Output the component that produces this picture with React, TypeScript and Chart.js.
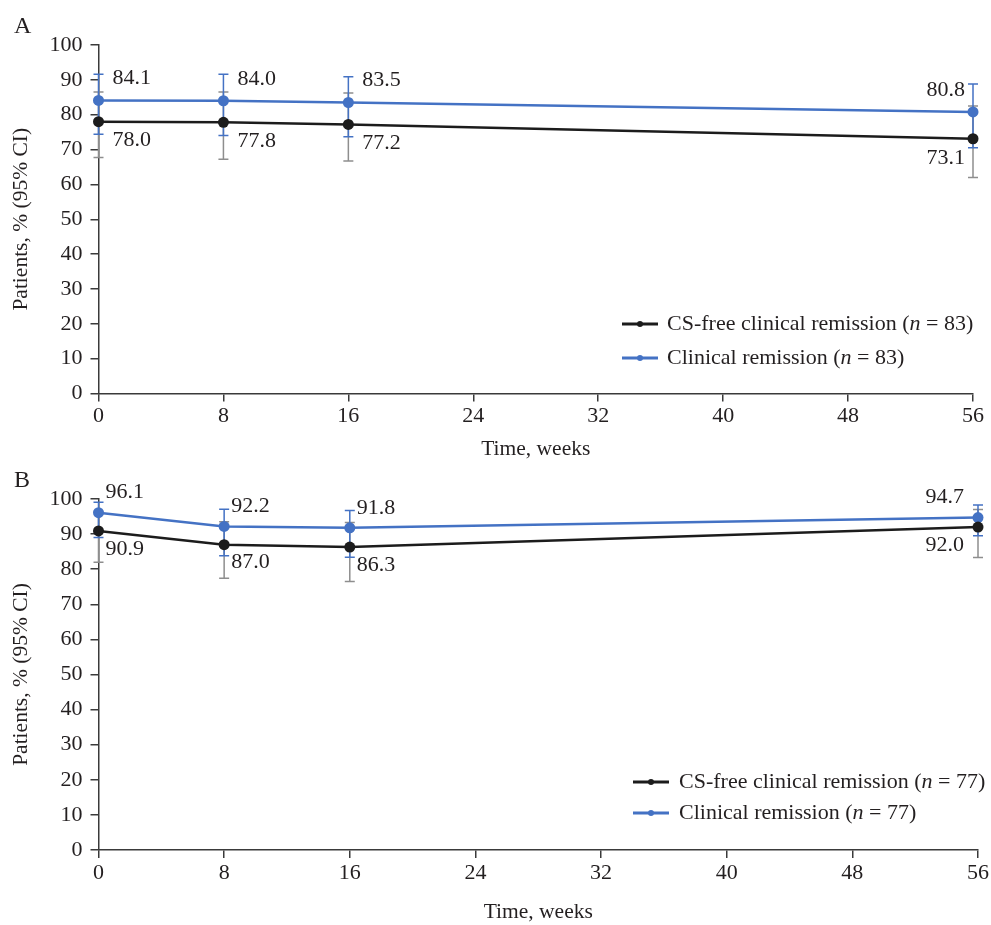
import React, { useEffect, useRef } from 'react';
import { Chart, registerables } from 'chart.js';

Chart.register(...registerables);

const FONT = '"Liberation Serif", "DejaVu Serif", serif';
const BLUE = '#4472c4';
const BLACK = '#1c1c1c';
const GREY = '#8e8e8e';
const AXIS = '#3a3a3a';
const TEXT = '#231f20';

// ---- data ----
const weeks = [0, 8, 16, 56];
const xTickValues = [0, 8, 16, 24, 32, 40, 48, 56];
const yTickValues = [0, 10, 20, 30, 40, 50, 60, 70, 80, 90, 100];

const csFreeLabel = 'CS-free clinical remission';
const clinicalLabel = 'Clinical remission';
const nA = 83;
const nB = 77;

const aCsFree = [78.0, 77.8, 77.2, 73.1];
const aCsFreeLow = [67.7, 67.2, 66.7, 62.0];
const aCsFreeHigh = [86.5, 86.5, 86.2, 82.5];
const aClinical = [84.1, 84.0, 83.5, 80.8];
const aClinicalLow = [74.4, 74.0, 73.7, 70.5];
const aClinicalHigh = [91.6, 91.6, 90.9, 88.8];

const bCsFree = [90.9, 87.0, 86.3, 92.0];
const bCsFreeLow = [82.0, 77.4, 76.5, 83.3];
const bCsFreeHigh = [96.3, 93.5, 93.3, 97.0];
const bClinical = [96.1, 92.2, 91.8, 94.7];
const bClinicalLow = [89.0, 83.8, 83.4, 89.5];
const bClinicalHigh = [99.1, 97.1, 96.7, 98.3];

const TICK_SIZE = 22;
const LABEL_SIZE = 22;
const LEGEND_SIZE = 22;
const TITLE_SIZE = 21.5;

const overlayPlugin = {
  id: 'overlay',
  beforeDatasetsDraw(chart: any, _a: any, opts: any) {
    const ctx = chart.ctx;
    const xs = chart.scales.x;
    const ys = chart.scales.y;
    chart.data.datasets.forEach((ds: any) => {
      ctx.save();
      ctx.strokeStyle = ds.errColor;
      ctx.lineWidth = 1.5;
      ds.data.forEach((p: any, i: number) => {
        const x = xs.getPixelForValue(p.x);
        const y1 = ys.getPixelForValue(ds.low[i]);
        const y2 = ys.getPixelForValue(ds.high[i]);
        ctx.beginPath();
        ctx.moveTo(x, y1);
        ctx.lineTo(x, y2);
        ctx.moveTo(x - 5, y1);
        ctx.lineTo(x + 5, y1);
        ctx.moveTo(x - 5, y2);
        ctx.lineTo(x + 5, y2);
        ctx.stroke();
      });
      ctx.restore();
    });
  },
  afterDatasetsDraw(chart: any, _a: any, opts: any) {
    const ctx = chart.ctx;
    const xs = chart.scales.x;
    const ys = chart.scales.y;
    ctx.save();
    ctx.font = `${LABEL_SIZE}px ${FONT}`;
    ctx.fillStyle = TEXT;
    ctx.textBaseline = 'middle';
    chart.data.datasets.forEach((ds: any) => {
      ds.data.forEach((p: any, i: number) => {
        const x = xs.getPixelForValue(p.x);
        const y = ys.getPixelForValue(p.y);
        const last = i === ds.data.length - 1;
        ctx.textAlign = last ? 'right' : 'left';
        const tx = last ? x - opts.dxEnd : x + opts.dx;
        const ty = y + (ds.labelSide === 'above' ? -opts.dyAbove : opts.dyBelow);
        ctx.fillText(p.y.toFixed(1), tx, ty);
      });
    });
    ctx.restore();
  },
  afterDraw(chart: any, _a: any, opts: any) {
    const ctx = chart.ctx;
    ctx.save();
    // panel letter
    ctx.font = `24px ${FONT}`;
    ctx.fillStyle = TEXT;
    ctx.textBaseline = 'alphabetic';
    ctx.textAlign = 'left';
    ctx.fillText(opts.letter, opts.letterX, opts.letterY);
    // legend
    const lg = opts.legend;
    chart.data.datasets.forEach((ds: any, i: number) => {
      const y = lg.y + i * lg.gap;
      ctx.strokeStyle = ds.borderColor;
      ctx.lineWidth = 3;
      ctx.beginPath();
      ctx.moveTo(lg.x, y);
      ctx.lineTo(lg.x + 36, y);
      ctx.stroke();
      ctx.fillStyle = ds.borderColor;
      ctx.beginPath();
      ctx.arc(lg.x + 18, y, 3, 0, Math.PI * 2);
      ctx.fill();
      ctx.fillStyle = TEXT;
      ctx.textBaseline = 'middle';
      let tx = lg.textX;
      const parts: [string, boolean][] = [
        [ds.label + ' (', false],
        ['n', true],
        [' = ' + ds.n + ')', false],
      ];
      parts.forEach(([t, it]) => {
        ctx.font = `${it ? 'italic ' : ''}${LEGEND_SIZE}px ${FONT}`;
        ctx.fillText(t, tx, y);
        tx += ctx.measureText(t).width;
      });
    });
    ctx.restore();
  },
};

function makeConfig(p: any) {
  const mk = (label: string, vals: number[], low: number[], high: number[], color: string, err: string, side: string, n: number) => ({
    label,
    n,
    data: weeks.map((w, i) => ({ x: w, y: vals[i] })),
    low,
    high,
    errColor: err,
    labelSide: side,
    borderColor: color,
    backgroundColor: color,
    borderWidth: 2.5,
    pointRadius: 5.5,
    pointHoverRadius: 5.5,
    pointBorderWidth: 0,
    tension: 0,
    clip: false,
  });
  return {
    type: 'line',
    data: {
      datasets: [
        mk(csFreeLabel, p.cs, p.csLow, p.csHigh, BLACK, GREY, 'below', p.n),
        mk(clinicalLabel, p.cl, p.clLow, p.clHigh, BLUE, BLUE, 'above', p.n),
      ],
    },
    plugins: [overlayPlugin],
    options: {
      responsive: false,
      animation: false,
      events: [],
      layout: { padding: { top: p.padTop, right: p.padRight, left: 0, bottom: 0 } },
      plugins: {
        legend: { display: false },
        tooltip: { enabled: false },
        overlay: p.overlay,
      },
      scales: {
        x: {
          type: 'linear',
          min: 0,
          max: 56,
          afterBuildTicks: (s: any) => {
            s.ticks = xTickValues.map((v) => ({ value: v }));
          },
          ticks: { font: { family: FONT, size: TICK_SIZE }, color: TEXT, padding: 2, maxRotation: 0, autoSkip: false },
          grid: { drawOnChartArea: false, drawTicks: true, tickLength: 8, color: AXIS, lineWidth: 1.5 },
          border: { color: AXIS, width: 1.5 },
          title: {
            display: true,
            text: 'Time, weeks',
            font: { family: FONT, size: TITLE_SIZE, lineHeight: 1.2 },
            color: TEXT,
            padding: { top: 0, bottom: 0 },
          },
          afterFit: (s: any) => {
            s.height = p.xHeight;
            s.paddingLeft = 0;
            s.paddingRight = 0;
          },
        },
        y: {
          type: 'linear',
          min: 0,
          max: 100,
          afterBuildTicks: (s: any) => {
            s.ticks = yTickValues.map((v) => ({ value: v }));
          },
          ticks: { font: { family: FONT, size: TICK_SIZE }, color: TEXT, padding: 8 },
          grid: { drawOnChartArea: false, drawTicks: true, tickLength: 8, color: AXIS, lineWidth: 1.5 },
          border: { color: AXIS, width: 1.5 },
          title: {
            display: true,
            text: 'Patients, % (95% CI)',
            font: { family: FONT, size: TITLE_SIZE, lineHeight: 1.2 },
            color: TEXT,
            padding: { top: 8, bottom: 0 },
          },
          afterFit: (s: any) => {
            s.width = 98.5;
            s.paddingTop = 0;
            s.paddingBottom = 0;
          },
        },
      },
    },
  };
}

function Panel({ params, height, top }: { params: any; height: number; top: number }) {
  const ref = useRef<HTMLCanvasElement>(null);
  useEffect(() => {
    const chart = new Chart(ref.current as HTMLCanvasElement, makeConfig(params) as any);
    return () => chart.destroy();
  }, []);
  return (
    <canvas
      ref={ref}
      width={991}
      height={height}
      style={{ position: 'absolute', left: 0, top, width: 991, height }}
    />
  );
}

const panelA = {
  cs: aCsFree, csLow: aCsFreeLow, csHigh: aCsFreeHigh,
  cl: aClinical, clLow: aClinicalLow, clHigh: aClinicalHigh,
  n: nA,
  padTop: 45,
  padRight: 18,
  xHeight: 68.5,
  overlay: {
    dx: 14, dxEnd: 8, dyAbove: 22, dyBelow: 19,
    letter: 'A', letterX: 14, letterY: 33,
    legend: { x: 622, textX: 667, y: 324, gap: 34 },
  },
};

const panelB = {
  cs: bCsFree, csLow: bCsFreeLow, csHigh: bCsFreeHigh,
  cl: bClinical, clLow: bClinicalLow, clHigh: bClinicalHigh,
  n: nB,
  padTop: 37,
  padRight: 13,
  xHeight: 75,
  overlay: {
    dx: 7, dxEnd: 14, dyAbove: 20, dyBelow: 18,
    letter: 'B', letterX: 14, letterY: 25,
    legend: { x: 633, textX: 679, y: 320, gap: 31 },
  },
};

export default function App() {
  return (
    <div style={{ position: 'absolute', left: 0, top: 0, width: 991, height: 925, background: '#fff' }}>
      <Panel params={panelA} height={462} top={0} />
      <Panel params={panelB} height={463} top={462} />
    </div>
  );
}
